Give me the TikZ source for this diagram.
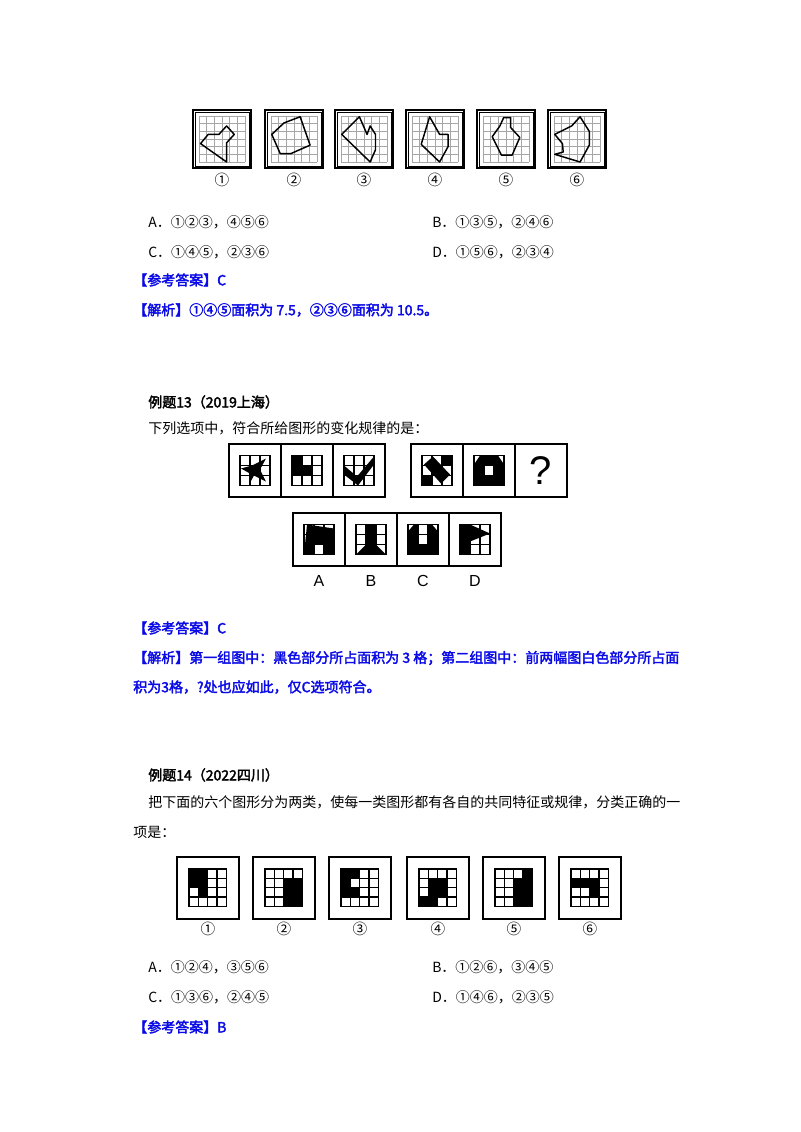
\documentclass[tikz,border=0pt]{standalone}
\usepackage{fontspec}
\setmainfont{Liberation Serif}
\newfontfamily\cjk[AutoFakeBold=2.5]{Noto Sans CJK SC}
\newfontfamily\sansf{Liberation Sans}
\definecolor{ansblue}{RGB}{10,10,230}
\newcommand\mygrid[2]{\foreach \i in {0,...,#1}{\draw (\i,0)--(\i,#1); \draw (0,\i)--(#1,\i);}}
\begin{document}
\begin{tikzpicture}[x=0.75pt,y=-0.75pt,
  txt/.style={anchor=west,inner sep=0pt,font=\cjk\fontsize{10.5pt}{12pt}\selectfont},
  ans/.style={txt,text=ansblue,font=\cjk\bfseries\fontsize{10.5pt}{12pt}\selectfont},
  ttl/.style={txt,font=\cjk\bfseries\fontsize{10.5pt}{12pt}\selectfont},
  lab/.style={inner sep=0pt,font=\cjk\fontsize{11pt}{12pt}\selectfont},
  poly/.style={line width=1.1pt,line join=round},
  box/.style={line width=0.9pt}]
\useasboundingbox (0,0) rectangle (800,1132);
% ---------- top six figures
\foreach \bx/\n/\pts in {
 193/①/{(3.6,1.3)--(4.6,2.4)--(3.6,3.5)--(3.6,6)--(0.2,3.6)--(1.2,2.4)--(2.6,2.4)},
 265/②/{(3.8,0.1)--(5.1,3.8)--(2.6,4.9)--(1.2,4.9)--(0.1,2.4)--(1.7,0.9)},
 335/③/{(2.4,0.1)--(3.4,2.4)--(3.8,1.3)--(4.5,2.4)--(4.5,4.4)--(3.8,6)--(0.1,2.4)},
 406/④/{(2.3,0.1)--(3.6,2.4)--(4.7,2.4)--(4.7,4)--(3.6,6)--(1.2,3.7)},
 477/⑤/{(2.7,0.2)--(3.6,0.2)--(3.6,1.5)--(4.8,2.8)--(3.8,5.1)--(2.4,5.1)--(1.2,2.7)--(2.2,1.3)},
 548/⑥/{(0.1,2.4)--(2.3,1.3)--(3.4,0.1)--(4.6,2)--(4.6,3.8)--(3.4,6)--(0.1,5)--(1.2,4.7)--(1.1,3.6)}}{
  \draw[line width=1.2pt] (\bx,110) rectangle ++(58,58);
  \draw[line width=0.4pt] (\bx+2,112) rectangle ++(54,54);
  \begin{scope}[shift={(\bx+6,116)},x=5.75pt,y=-5.75pt]
    \begin{scope}[gray!70,line width=0.4pt]\mygrid{6}{}\end{scope}
    \draw[poly] \pts -- cycle;
  \end{scope}
  \node[lab] at (\bx+29,180) {\n};
}
\node[txt] (a1) at (148,222) {A．①②③，④⑤⑥};
\node[txt] (b1) at (432,222) {B．①③⑤，②④⑥};
\node[txt] (c1) at (148,252) {C．①④⑤，②③⑥};
\node[txt] (d1) at (432,252) {D．①⑤⑥，②③④};
\node[ans] (k1) at (133,280) {【参考答案】C};
\node[ans] (j1) at (133,310) {【解析】①④⑤面积为 7.5，②③⑥面积为 10.5。};
% ---------- example 13
\node[ttl] (t13) at (148,402) {例题13（2019上海）};
\node[txt] (q13) at (148,428) {下列选项中，符合所给图形的变化规律的是：};
\newcommand\pcell[3]{% x, y, shape
  \draw[box] (#1,#2) rectangle ++(52,53);
  \begin{scope}[shift={(#1+11,#2+11.5)},x=7.5pt,y=-7.5pt]
    #3
    \begin{scope}[line width=0.8pt]\mygrid{3}{}\end{scope}
    \draw[line width=0.9pt] (0,0) rectangle (3,3);
  \end{scope}}
\pcell{229}{444}{\fill (0.1,1.3)--(1.2,1.0)--(2.6,0.3)--(2.0,1.4)--(2.6,2.6)--(1.4,2.0)--(0.9,2.9)--(1.0,1.8)--cycle;}
\pcell{281}{444}{\fill (0,0)--(1,0)--(1,1)--(2,1)--(2,2)--(0,2)--cycle;}
\pcell{333}{444}{\fill (0,1)--(1.3,2.1)--(3,0.1)--(3,0.9)--(1.4,3)--(0,1.9)--cycle;}
\pcell{411}{444}{\fill (0.2,0.9)--(1.1,0.1)--(2.8,1.9)--(1.9,2.8)--cycle; \fill (2,0) rectangle (3,1); \fill (0,2) rectangle (1,3);}
\pcell{463}{444}{\fill (0.6,0)--(2.4,0)--(3,0.9)--(3,3)--(0,3)--(0,0.9)--cycle; \fill[white] (1,1) rectangle (2,2);}
\draw[box] (515,444) rectangle ++(52,53);
\node[inner sep=0pt,font=\sansf\fontsize{30pt}{30pt}\selectfont] (qm) at (541,471) {?};
\pcell{293}{513}{\fill (0.3,0)--(3,0.4)--(3,3)--(0,3)--cycle; \fill[white] (1,2) rectangle (2,3);}
\pcell{345}{513}{\fill (1,0)--(2,0)--(2,2)--(3,3)--(0,3)--(1,2)--cycle;}
\pcell{397}{513}{\fill (0.6,0)--(2.4,0)--(3,0.7)--(3,3)--(0,3)--(0,0.7)--cycle; \fill[white] (1,0) rectangle (2,2);}
\pcell{449}{513}{\fill (0,0)--(1,0)--(3,0.9)--(1,1.7)--(1,3)--(0,3)--cycle;}
\foreach \x/\l in {319/A,371/B,423/C,475/D}{
  \node[inner sep=0pt,font=\sansf\fontsize{12pt}{12pt}\selectfont] at (\x,581) {\l};}
\node[ans] (k2) at (133,628) {【参考答案】C};
\node[ans] (j2) at (133,658) {【解析】第一组图中：黑色部分所占面积为 3 格；第二组图中：前两幅图白色部分所占面};
\node[ans] (j3) at (133,687) {积为3格，?处也应如此，仅C选项符合。};
% ---------- example 14
\node[ttl] (t14) at (148,775) {例题14（2022四川）};
\node[txt] (q14) at (148,802) {把下面的六个图形分为两类，使每一类图形都有各自的共同特征或规律，分类正确的一};
\node[txt] (q14b) at (133,832) {项是：};
\foreach \bx/\n/\cells in {
 177/①/{0/0,1/0,0/1,1/1,1/2},
 253/②/{2/1,3/1,2/2,3/2,2/3,3/3},
 329/③/{0/0,1/0,0/1,0/2,1/2},
 407/④/{1/1,2/1,1/2,2/2,0/3,1/3},
 483/⑤/{3/0,2/1,3/1,2/2,3/2,2/3,3/3},
 559/⑥/{0/1,1/1,2/1,2/2}}{
  \draw[box] (\bx,857) rectangle ++(62,62);
  \begin{scope}[shift={(\bx+12,869)},x=7pt,y=-7pt]
    \foreach \c/\r in \cells {\fill (\c,\r) rectangle ++(1,1);}
    \begin{scope}[line width=0.8pt]\mygrid{4}{}\end{scope}
    \draw[line width=0.9pt] (0,0) rectangle (4,4);
  \end{scope}
  \node[lab] at (\bx+31,929) {\n};
}
\node[txt] (a2) at (148,967) {A．①②④，③⑤⑥};
\node[txt] (b2) at (432,967) {B．①②⑥，③④⑤};
\node[txt] (c2) at (148,997) {C．①③⑥，②④⑤};
\node[txt] (d2) at (432,997) {D．①④⑥，②③⑤};
\node[ans] (k3) at (133,1027) {【参考答案】B};
\end{tikzpicture}
\end{document}
